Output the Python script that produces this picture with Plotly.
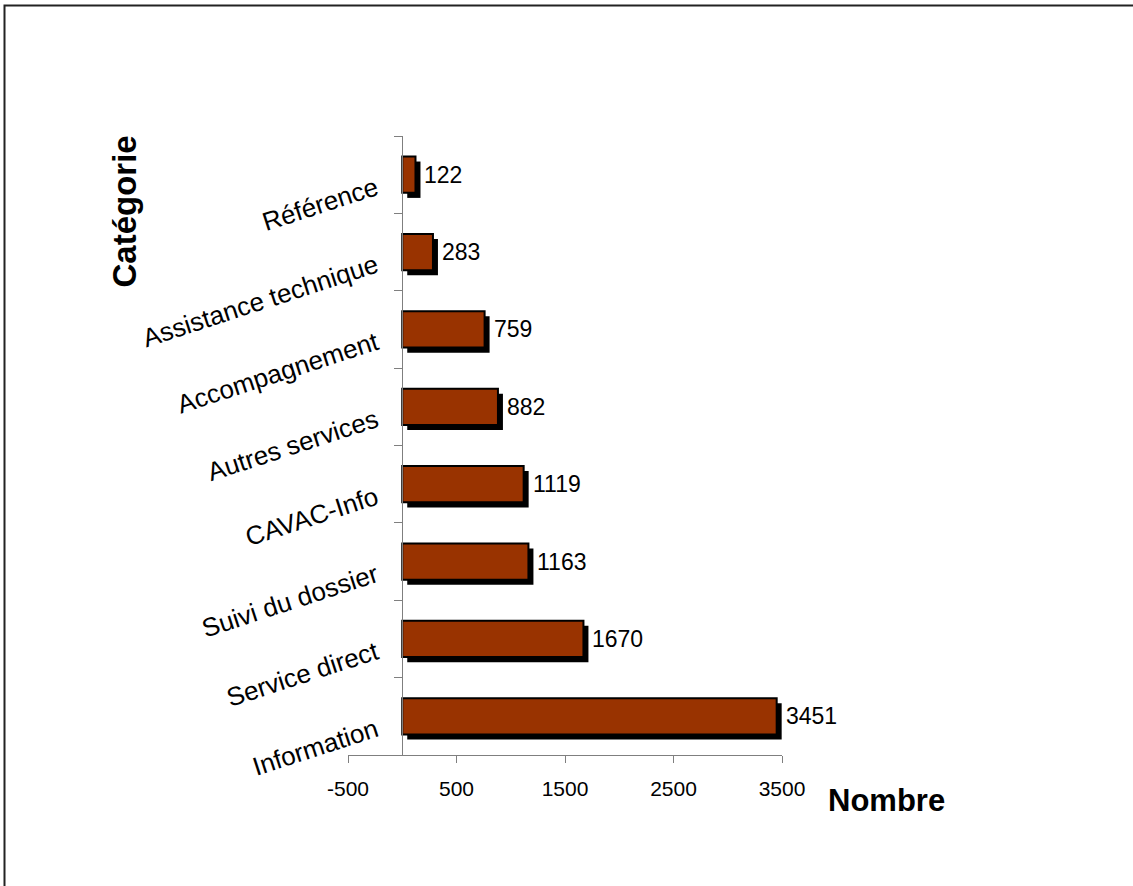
import plotly.graph_objects as go

categories = ["Information", "Service direct", "Suivi du dossier", "CAVAC-Info",
              "Autres services", "Accompagnement", "Assistance technique", "Référence"]
values = [3451, 1670, 1163, 1119, 882, 759, 283, 122]
x_tickvals = [-500, 500, 1500, 2500, 3500]
x_range = [-500, 3500]

FONT = "Arial, Liberation Sans, Helvetica, sans-serif"
BAR_W = 0.47
SHADOW_DX = 46      # data units (~5 px)
SHADOW_DY = 0.065   # category units (~5 px)
AXIS_COL = "#7f7f7f"

fig = go.Figure()
# shadow bars
fig.add_trace(go.Bar(
    y=categories, x=values, base=[SHADOW_DX] * len(values), orientation="h",
    width=BAR_W, offset=-BAR_W / 2 - SHADOW_DY,
    marker=dict(color="black", line=dict(width=0)),
    hoverinfo="skip", showlegend=False))
# main bars
fig.add_trace(go.Bar(
    y=categories, x=values, orientation="h",
    width=BAR_W, offset=-BAR_W / 2,
    marker=dict(color="#993300", line=dict(color="black", width=2)),
    showlegend=False))

# data labels as annotations (placed through the axes' scales)
annotations = [
    dict(x=v + SHADOW_DX, y=c, xref="x", yref="y", text=str(v), showarrow=False,
         xanchor="left", yanchor="middle", xshift=2,
         font=dict(family=FONT, size=23, color="black"))
    for c, v in zip(categories, values)
]

ypos = (0 - x_range[0]) / (x_range[1] - x_range[0])

annotations += [
    dict(text="<b>Catégorie</b>", xref="paper", yref="paper",
         x=(123.5 - 348) / 434, y=(755 - 212) / 619, textangle=-90, showarrow=False,
         font=dict(family=FONT, size=33, color="black"), xanchor="center", yanchor="middle"),
    dict(text="<b>Nombre</b>", xref="paper", yref="paper",
         x=(886 - 348) / 434, y=(755 - 800) / 619, showarrow=False,
         font=dict(family=FONT, size=31, color="black"), xanchor="center", yanchor="middle"),
]

fig.update_layout(
    width=1133, height=886,
    margin=dict(l=348, r=351, t=136, b=131),
    paper_bgcolor="white", plot_bgcolor="white",
    barmode="overlay",
    font=dict(family=FONT, color="black"),
    xaxis=dict(range=x_range, tickvals=x_tickvals, ticktext=[str(v) for v in x_tickvals],
               showgrid=False, zeroline=False, showline=True, linecolor=AXIS_COL, linewidth=1,
               ticks="outside", ticklen=7, tickcolor=AXIS_COL, tickwidth=1,
               ticklabelstandoff=8,
               tickfont=dict(family=FONT, size=21, color="black")),
    yaxis=dict(categoryorder="array", categoryarray=categories, range=[-0.5, 7.5],
               anchor="free", position=ypos,
               showgrid=False, zeroline=False, showline=True, linecolor=AXIS_COL, linewidth=1,
               ticks="outside", ticklen=8, tickcolor=AXIS_COL, tickwidth=1,
               tickson="boundaries", tickangle=-18, ticklabelshift=11, ticklabelstandoff=21,
               tickfont=dict(family=FONT, size=26, color="black")),
    annotations=annotations,
    shapes=[dict(type="rect", xref="paper", yref="paper",
                 x0=(4.5 - 348) / 434, x1=4, y0=-4, y1=(755 - 5.5) / 619,
                 line=dict(color="#222222", width=2), fillcolor="rgba(0,0,0,0)", layer="below")],
)

fig.write_html("out.html")
